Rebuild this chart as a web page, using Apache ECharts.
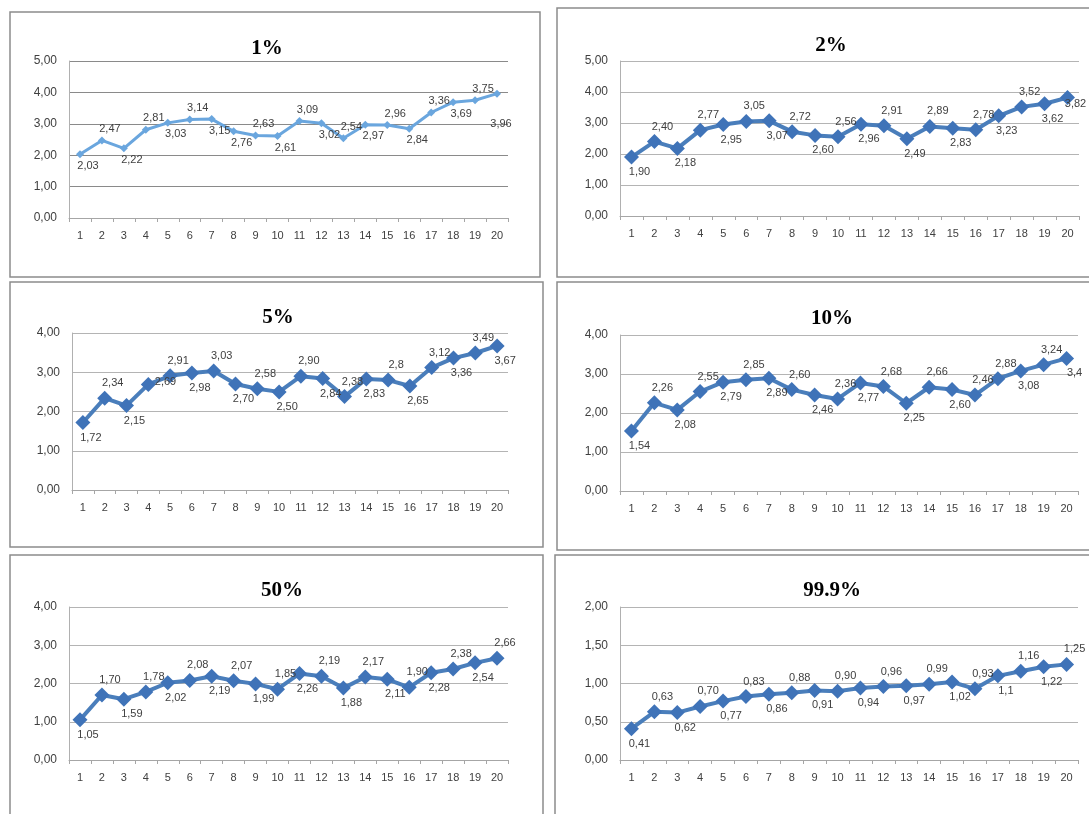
<!DOCTYPE html>
<html>
<head>
<meta charset="utf-8">
<script src="https://cdn.jsdelivr.net/npm/echarts@6/dist/echarts.min.js"></script>
<style>
  html, body { margin: 0; padding: 0; background: #fff; }
  #chart-id { width: 1089px; height: 814px; }
</style>
</head>
<body>
<div id="chart-id"></div>
<script>
// x categories shared by all six panels
const categories = ['1', '2', '3', '4', '5', '6', '7', '8', '9', '10',
  '11', '12', '13', '14', '15', '16', '17', '18', '19', '20'];

// values as printed in the labels
const pct1 = ['2.03', '2.47', '2.22', '2.81', '3.03', '3.14', '3.15', '2.76', '2.63', '2.61',
  '3.09', '3.02', '2.54', '2.97', '2.96', '2.84', '3.36', '3.69', '3.75', '3.96'];
const pct2 = ['1.90', '2.40', '2.18', '2.77', '2.95', '3.05', '3.07', '2.72', '2.60', '2.56',
  '2.96', '2.91', '2.49', '2.89', '2.83', '2.78', '3.23', '3.52', '3.62', '3.82'];
const pct5 = ['1.72', '2.34', '2.15', '2.69', '2.91', '2.98', '3.03', '2.70', '2.58', '2.50',
  '2.90', '2.84', '2.38', '2.83', '2.8', '2.65', '3.12', '3.36', '3.49', '3.67'];
const pct10 = ['1.54', '2.26', '2.08', '2.55', '2.79', '2.85', '2.89', '2.60', '2.46', '2.36',
  '2.77', '2.68', '2.25', '2.66', '2.60', '2.46', '2.88', '3.08', '3.24', '3.4'];
const pct50 = ['1.05', '1.70', '1.59', '1.78', '2.02', '2.08', '2.19', '2.07', '1.99', '1.85',
  '2.26', '2.19', '1.88', '2.17', '2.11', '1.90', '2.28', '2.38', '2.54', '2.66'];
const pct999 = ['0.41', '0.63', '0.62', '0.70', '0.77', '0.83', '0.86', '0.88', '0.91', '0.90',
  '0.94', '0.96', '0.97', '0.99', '1.02', '0.93', '1.1', '1.16', '1.22', '1.25'];

const titles = ['1%', '2%', '5%', '10%', '50%', '99.9%'];
const yMax = [5, 5, 4, 4, 4, 2];
const yStep = [1, 1, 1, 1, 1, 0.5];

// layout of each panel (frame, plot area, title centre)
const panels = [
  {frame: [10, 12, 530, 265], grid: [69, 61, 439, 157], title: [262, 33]},
  {frame: [557, 8, 540, 269], grid: [620, 61, 459, 155], title: [826, 30]},
  {frame: [10, 282, 533, 265], grid: [72, 333, 436, 157], title: [273, 302]},
  {frame: [557, 282, 540, 268], grid: [620, 335, 458, 156], title: [827, 303]},
  {frame: [10, 555, 533, 270], grid: [69, 607, 439, 153], title: [277, 575]},
  {frame: [555, 555, 540, 270], grid: [620, 607, 458, 153], title: [827, 575]}
];
const series = [pct1, pct2, pct5, pct10, pct50, pct999];
// which side each label sits on: T top, B bottom, M on the point, D far below, E low right
const sides = [
  'BTBTBTBBTBTBTBTBTBTD',
  'BTBTBTBTBTBTBTBTBTBE',
  'BTBMTBTBTBTBTBTBTBTB',
  'BTBTBTBTBTBTBTBTTBTB',
  'BTBTBTBTBTBTBTBTBTBT',
  'BTBTBTBTBTBTBTBTBTBT'
];

var chartDom = document.getElementById('chart-id');
var myChart = echarts.init(chartDom);

function comma(v, d) {
  return (d == null ? String(v) : v.toFixed(d)).replace('.', ',');
}

function labelSide(s) {
  if (s === 'T') return {position: 'top', offset: [8, 3]};
  if (s === 'B') return {position: 'bottom', offset: [8, -3]};
  if (s === 'M') return {position: 'right', offset: [-6, -2]};
  if (s === 'D') return {position: 'bottom', offset: [4, 16]};
  return {position: 'bottom', offset: [8, -12]};
}

var option = {
  animation: false,
  backgroundColor: '#fff',
  title: panels.map((p, i) => ({
    text: titles[i],
    left: p.title[0],
    top: p.title[1],
    textAlign: 'center',
    textStyle: {fontFamily: 'Liberation Serif', fontWeight: 'bold', fontSize: 21, color: '#000'}
  })),
  graphic: panels.map(p => ({
    type: 'rect',
    shape: {x: p.frame[0], y: p.frame[1], width: p.frame[2], height: p.frame[3]},
    style: {fill: 'none', stroke: '#8c8c8c', lineWidth: 1.5},
    silent: true
  })),
  grid: panels.map(p => ({left: p.grid[0], top: p.grid[1], width: p.grid[2], height: p.grid[3]})),
  xAxis: panels.map((p, i) => ({
    type: 'category',
    gridIndex: i,
    data: categories,
    boundaryGap: true,
    axisLine: {lineStyle: {color: '#a6a6a6', width: 1}},
    axisTick: {show: true, length: 4, lineStyle: {color: '#a6a6a6'}},
    axisLabel: {interval: 0, margin: 12, fontFamily: 'Liberation Sans', fontSize: 11, color: '#404040'}
  })),
  yAxis: panels.map((p, i) => ({
    type: 'value',
    gridIndex: i,
    min: 0,
    max: yMax[i],
    interval: yStep[i],
    axisLine: {show: true, lineStyle: {color: '#b0b0b0'}},
    axisTick: {show: false},
    splitLine: {lineStyle: {color: i === 0 ? '#8a8a8a' : '#b4b4b4', width: 1}},
    axisLabel: {margin: 12, fontFamily: 'Liberation Sans', fontSize: 12, color: '#404040',
      formatter: v => comma(v, 2)}
  })),
  series: series.map((vals, i) => {
    var first = i === 0;
    var col = first ? '#6aa6de' : '#4a7ebb';
    return {
      type: 'line',
      xAxisIndex: i,
      yAxisIndex: i,
      symbol: 'diamond',
      symbolSize: first ? 8 : 15,
      lineStyle: {color: col, width: first ? 3 : 4},
      itemStyle: {color: first ? '#6aa6de' : '#3f73b8'},
      label: {
        show: true,
        fontFamily: 'Liberation Sans',
        fontSize: 11,
        color: '#404040',
        formatter: p => comma(vals[p.dataIndex])
      },
      data: vals.map((v, k) => ({value: Number(v), label: labelSide(sides[i][k])}))
    };
  })
};

option && myChart.setOption(option);
</script>
</body>
</html>
